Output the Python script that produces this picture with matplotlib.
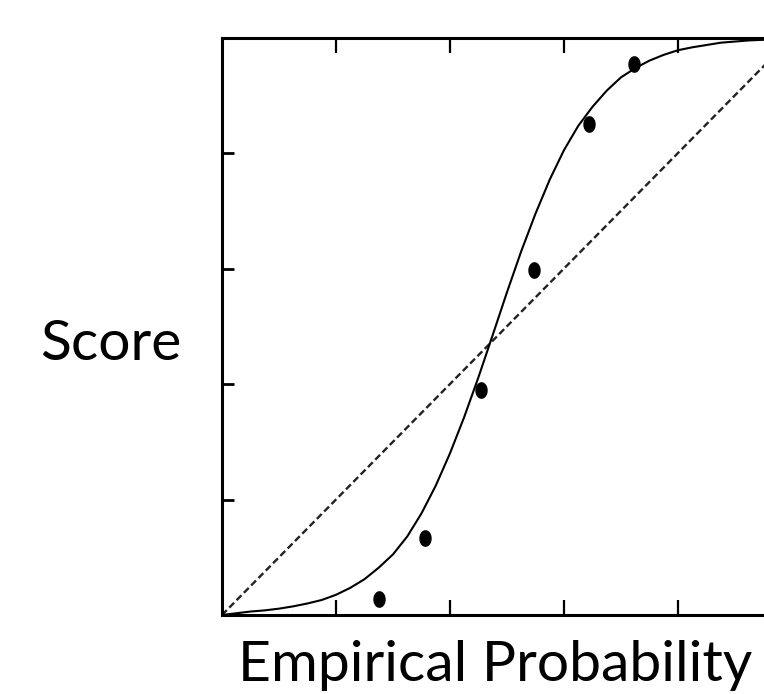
import matplotlib
matplotlib.use("Agg")
import matplotlib.pyplot as plt
import numpy as np
from matplotlib.path import Path

# ---- data ----
point_x = [0.275, 0.357, 0.455, 0.548, 0.643, 0.723]
point_y = [0.028, 0.134, 0.390, 0.597, 0.850, 0.954]

curve_x = [0.000, 0.025, 0.050, 0.075, 0.100, 0.125, 0.150, 0.175, 0.200, 0.225,
           0.250, 0.275, 0.300, 0.325, 0.350, 0.375, 0.400, 0.425, 0.450, 0.475,
           0.500, 0.525, 0.550, 0.575, 0.600, 0.625, 0.650, 0.675, 0.700, 0.725,
           0.750, 0.775, 0.800, 0.825, 0.850, 0.875, 0.900, 0.925, 0.950, 0.975,
           1.000]
curve_y = [0.000, 0.003, 0.006, 0.008, 0.011, 0.015, 0.020, 0.026, 0.035, 0.047,
           0.062, 0.082, 0.105, 0.136, 0.176, 0.224, 0.280, 0.343, 0.412, 0.485,
           0.559, 0.630, 0.695, 0.754, 0.805, 0.847, 0.880, 0.908, 0.931, 0.947,
           0.960, 0.970, 0.978, 0.983, 0.987, 0.991, 0.993, 0.995, 0.996, 0.997,
           0.998]

diag_x = [0.0, 1.0]
diag_y = [0.0, 1.0]

tick_vals = [0.2, 0.4, 0.6, 0.8]

xlabel = "Empirical Probability"
ylabel = "Score"

# ---- figure ----
W, H = 764, 694
fig = plt.figure(figsize=(W / 100, H / 100), dpi=100)
ax = fig.add_axes([222 / W, 79 / H, 570 / W, 577.5 / H])

ax.set_xlim(0, 1)
ax.set_ylim(0, 1)

# elliptical dot marker (taller than wide)
t = np.linspace(0, 2 * np.pi, 40)
verts = np.column_stack([0.72 * np.cos(t), np.sin(t)])
ell = Path(verts, closed=True)

ax.plot(diag_x, diag_y, color="#222222", lw=1.7,
        linestyle=(0, (2.9, 1.5)), clip_on=False)
ax.plot(curve_x, curve_y, color="black", lw=1.5, solid_capstyle="round",
        solid_joinstyle="round")
ax.plot(point_x, point_y, linestyle="none", marker=ell, markersize=11,
        color="black")

for s in ax.spines.values():
    s.set_linewidth(2.2)
    s.set_color("black")

ax.set_xticks(tick_vals)
ax.set_yticks(tick_vals)
ax.tick_params(axis="x", which="both", direction="in", length=11, width=1.6,
               top=True, bottom=True, labelbottom=False, labeltop=False)
ax.tick_params(axis="y", which="both", direction="in", length=8.6, width=2.0,
               left=True, right=True, labelleft=False, labelright=False)

fam = ["Lato", "DejaVu Sans"]
fig.text(111 / W, 1 - 360 / H, ylabel, fontsize=41, family=fam,
         ha="center", va="baseline")
fig.text(495 / W, 1 - 681 / H, xlabel, fontsize=41, family=fam,
         ha="center", va="baseline")

fig.savefig("out.png", dpi=100)
